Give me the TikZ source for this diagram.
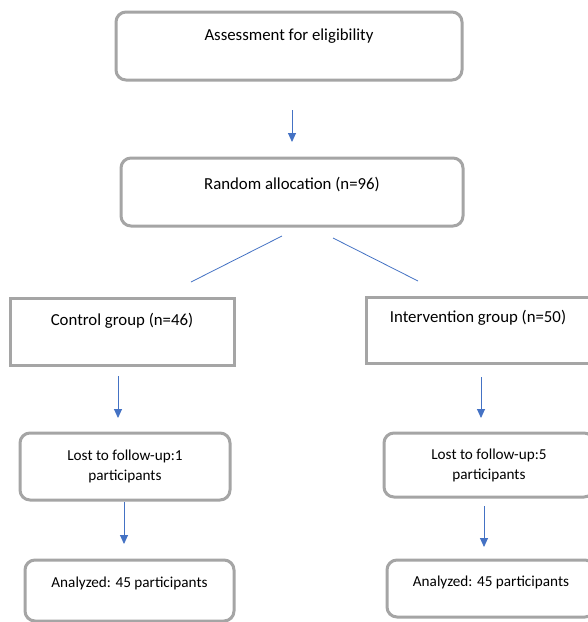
\documentclass[tikz,border=0pt]{standalone}
\usepackage{fontspec}
\setmainfont{Carlito}
\usetikzlibrary{arrows.meta}
\definecolor{boxgray}{RGB}{165,165,165}
\definecolor{arrblue}{RGB}{68,114,196}
\newcommand{\bigtxt}{\fontsize{16.8}{20.5}\selectfont}
\newcommand{\smalltxt}{\fontsize{15.2}{20.5}\selectfont}
\newcommand{\boxcontent}[4]{\parbox[c][#2][t]{#1}{\centering\rule{0pt}{#3}#4}}
\tikzset{
  rbox/.style={draw=boxgray, line width=3pt, rounded corners=10pt, inner sep=0pt, outer sep=0pt},
  sbox/.style={draw=boxgray, line width=3pt, inner sep=0pt, outer sep=0pt},
  arr/.style={draw=arrblue, line width=0.9pt, -{Triangle[width=8pt,length=9pt]}},
  lnk/.style={draw=arrblue, line width=0.8pt}
}
\begin{document}
\begin{tikzpicture}[x=1pt,y=-1pt]
\useasboundingbox (0,0) rectangle (588,622);
\clip (0,0) rectangle (588,622);
\fill[white] (0,0) rectangle (588,622);
% boxes
\node[rbox] (b1) at (289,46) {\boxcontent{346pt}{68pt}{28pt}{\bigtxt Assessment for eligibility}};
\node[rbox] (b2) at (292,192) {\boxcontent{342pt}{68pt}{31pt}{\bigtxt Random allocation (n=96)}};
\node[sbox] (c1) at (122,331.5) {\boxcontent{224pt}{67pt}{27pt}{\bigtxt Control group (n=46)}};
\node[sbox] (i1) at (478,330) {\boxcontent{224pt}{66pt}{25pt}{\bigtxt Intervention group (n=50)}};
\node[rbox] (c2) at (125,466.5) {\boxcontent{210pt}{67pt}{27pt}{\smalltxt Lost to follow-up:1\\participants}};
\node[rbox] (i2) at (489,465) {\boxcontent{210pt}{64pt}{26pt}{\smalltxt Lost to follow-up:5\\participants}};
\node[rbox] (c3) at (129.5,590.5) {\boxcontent{209pt}{61pt}{27pt}{\smalltxt Analyzed: 45 participants}};
\node[rbox] (i3) at (491,588.5) {\boxcontent{208pt}{57pt}{26pt}{\smalltxt Analyzed: 45 participants}};
% connector end points
\coordinate (a1s) at (292,110);
\coordinate (a1e) at (292,142);
\coordinate (ls) at (282,236);
\coordinate (le) at (191,282);
\coordinate (rs) at (333,238);
\coordinate (re) at (418,281);
\coordinate (a2s) at (118,376);
\coordinate (a2e) at (118,418);
\coordinate (a3s) at (124,502);
\coordinate (a3e) at (124,544);
\coordinate (a4s) at (481,377);
\coordinate (a4e) at (481,418);
\coordinate (a5s) at (484,506);
\coordinate (a5e) at (484,547);
% connectors
\draw[arr] (a1s) -- (a1e);
\draw[lnk] (ls) -- (le);
\draw[lnk] (rs) -- (re);
\draw[arr] (a2s) -- (a2e);
\draw[arr] (a3s) -- (a3e);
\draw[arr] (a4s) -- (a4e);
\draw[arr] (a5s) -- (a5e);
\end{tikzpicture}
\end{document}
